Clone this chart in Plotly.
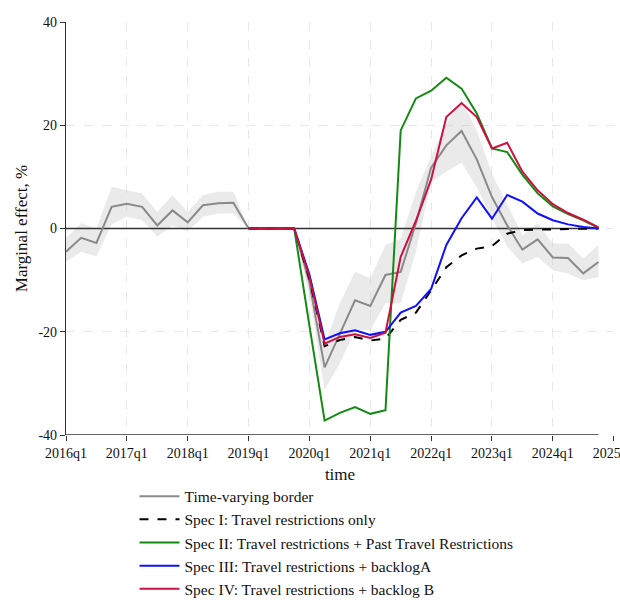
import plotly.graph_objects as go

# quarters 2016q1 .. 2024q4 (index 0..35)
quarters = [f"{y}q{q}" for y in range(2016, 2025) for q in range(1, 5)]
tick_labels = ["2016q1", "2017q1", "2018q1", "2019q1", "2020q1", "2021q1",
               "2022q1", "2023q1", "2024q1", "2025q1"]
y_ticks = [-40, -20, 0, 20, 40]
y_tick_labels = ["-40", "-20", "0", "20", "40"]

tv_border = [-4.5, -1.8, -2.8, 4.2, 4.8, 4.2, 0.6, 3.5, 1.2, 4.5, 4.9, 5.0,
             0, 0, 0, 0, -10.5, -26.9, -20.4, -13.9, -15.0, -9.0, -8.4, 1.0,
             11.8, 16.1, 18.9, 13.4, 6.1, 0.6, -4.1, -2.1, -5.6, -5.7, -8.7, -6.5]
tv_upper = [-1.9, 1.0, 0.0, 8.1, 7.4, 6.8, 3.2, 6.5, 3.2, 6.5, 7.1, 7.1,
            0, 0, 0, 0, -8.0, -22.5, -14.5, -8.4, -9.7, -3.2, -2.0, 7.0,
            14.0, 20.3, 24.8, 19.0, 10.6, 4.5, -1.3, 1.0, -2.9, -2.9, -5.8, -3.2]
tv_lower = [-6.5, -4.5, -5.4, 0.8, 2.3, 1.6, -1.6, 0.6, -0.6, 2.3, 2.9, 2.9,
            0, 0, 0, 0, -13.0, -31.3, -26.1, -19.7, -19.7, -14.5, -14.5, -4.5,
            9.0, 11.0, 12.8, 8.0, 2.0, -3.5, -6.8, -5.5, -8.1, -8.7, -10.0, -9.4]

# specifications start at 2019q1 (index 12)
spec_start = 12
spec1 = [0, 0, 0, 0, -9.8, -22.8, -21.6, -21.0, -21.7, -21.3, -17.7, -16.3,
         -12.0, -7.5, -5.2, -3.9, -3.4, -1.0, -0.3, -0.2, -0.1, -0.1, -0.05, 0]
spec2 = [0, 0, 0, 0, -18.8, -37.2, -35.7, -34.6, -35.9, -35.2, 19.0, 25.2,
         26.7, 29.2, 27.1, 22.3, 15.5, 14.8, 10.4, 6.8, 4.3, 2.8, 1.6, 0.1]
spec3 = [0, 0, 0, 0, -8.9, -21.5, -20.3, -19.7, -20.6, -20.0, -16.3, -15.0,
         -11.7, -3.2, 2.0, 6.0, 1.9, 6.5, 5.2, 2.9, 1.6, 0.8, 0.3, 0]
spec4 = [0, 0, 0, 0, -9.4, -22.3, -21.0, -20.5, -21.2, -20.2, -5.5, 1.5,
         9.5, 21.6, 24.3, 21.6, 15.5, 16.6, 11.0, 7.4, 4.7, 3.0, 1.7, 0.2]

FONT = "Liberation Serif"
x_all = list(range(len(quarters)))
x_spec = list(range(spec_start, spec_start + len(spec1)))

fig = go.Figure()
# confidence band
fig.add_trace(go.Scatter(x=x_all + x_all[::-1], y=tv_upper + tv_lower[::-1],
                         fill="toself", fillcolor="rgba(200,200,200,0.38)",
                         line=dict(width=0), hoverinfo="skip", showlegend=False))
# zero reference line
fig.add_trace(go.Scatter(x=[x_all[0], x_all[-1]], y=[0, 0], mode="lines",
                         line=dict(color="#333333", width=1.5), showlegend=False,
                         hoverinfo="skip"))
series = [
    ("Time-varying border", x_all, tv_border, dict(color="#8a8a8a", width=2)),
    ("Spec I: Travel restrictions only", x_spec, spec1, dict(color="black", width=2, dash="dash")),
    ("Spec II: Travel restrictions + Past Travel Restrictions", x_spec, spec2, dict(color="#138a13", width=2)),
    ("Spec III: Travel restrictions + backlogA", x_spec, spec3, dict(color="#1010ff", width=2)),
    ("Spec IV: Travel restrictions + backlog B", x_spec, spec4, dict(color="#cc1040", width=2)),
]
for k, (name, xs, ys, ln) in enumerate(series):
    fig.add_trace(go.Scatter(x=xs, y=ys, mode="lines", name=name, line=ln,
                             legendgroup=f"g{k}"))

fig.add_shape(type="line", xref="x", yref="y", x0=x_all[0], x1=x_all[-1], y0=-40, y1=-40,
              line=dict(color="#333333", width=1.3), layer="above")

fig.update_layout(
    width=620, height=600,
    margin=dict(l=66, r=6, t=22, b=165, autoexpand=False),
    paper_bgcolor="white", plot_bgcolor="white",
    font=dict(family=FONT, size=14, color="#111111"),
    xaxis=dict(range=[0, 36.02], tickvals=list(range(0, 37, 4)), ticktext=tick_labels,
               showline=False, ticks="outside", ticklen=5, tickcolor="#333333",
               showgrid=True, gridcolor="#e8e8e8", griddash="dash", gridwidth=1,
               zeroline=False, title=dict(text="time", standoff=8),
               tickfont=dict(size=14), ticklabeloverflow="allow", automargin=False),
    yaxis=dict(range=[-40, 40], tickvals=y_ticks, ticktext=y_tick_labels,
               showline=True, linecolor="#333333", linewidth=1.3,
               ticks="outside", ticklen=5, tickcolor="#333333",
               showgrid=True, gridcolor="#e8e8e8", griddash="dash", gridwidth=1,
               zeroline=False, title=dict(text="Marginal effect, %", standoff=6),
               tickfont=dict(size=14), automargin=False),
    legend=dict(x=0.125, y=-0.108, xanchor="left", yanchor="top",
                font=dict(family=FONT, size=15.5), itemwidth=40,
                bgcolor="rgba(0,0,0,0)", tracegroupgap=0),
    showlegend=True,
)

fig.write_html("out.html")
